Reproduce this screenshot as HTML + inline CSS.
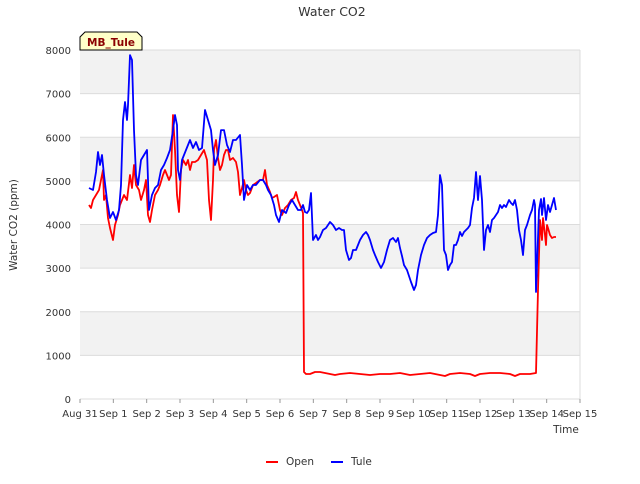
<!DOCTYPE html>
<html><head><meta charset="utf-8"><style>
body{margin:0;background:#fff;font-family:"DejaVu Sans","Liberation Sans",sans-serif;}
svg text{font-family:"DejaVu Sans","Liberation Sans",sans-serif;}
</style></head><body>
<svg id="chart" width="640" height="480">
<text x="332" y="16" text-anchor="middle" font-size="12.5" fill="#333">Water CO2</text>
<g id="bands"></g><g id="grid"></g><g id="axes"></g><g id="series"></g>
<text x="17" y="225" transform="rotate(-90 17 225)" text-anchor="middle" font-size="10.5" fill="#333">Water CO2 (ppm)</text>
<text x="566" y="433" text-anchor="middle" font-size="10.5" fill="#333">Time</text>
<g>
<path d="M80,50 L80,37 L85,32 L137,32 L142,37 L142,50 Z" fill="#ffffc8" stroke="#000" stroke-width="1"/>
<text x="111" y="46" text-anchor="middle" font-size="10.5" font-weight="bold" fill="#8b0000">MB_Tule</text>
</g>
<g>
<g><line x1="266" y1="462" x2="278" y2="462" stroke="#ff0000" stroke-width="2"/><text x="286" y="465" font-size="10.5" fill="#333">Open</text></g>
<g><line x1="331" y1="462" x2="343" y2="462" stroke="#0000ff" stroke-width="2"/><text x="351" y="465" font-size="10.5" fill="#333">Tule</text></g>
</g>
</svg>
<script>
const xTickLabels=["Aug 31","Sep 1","Sep 2","Sep 3","Sep 4","Sep 5","Sep 6","Sep 7","Sep 8","Sep 9","Sep 10","Sep 11","Sep 12","Sep 13","Sep 14","Sep 15"];
const yTicks=[0,1000,2000,3000,4000,5000,6000,7000,8000];
const tuleDays=[0.27,0.39,0.48,0.54,0.60,0.66,0.72,0.81,0.90,0.99,1.08,1.17,1.23,1.29,1.35,1.41,1.44,1.50,1.56,1.62,1.68,1.74,1.83,1.92,2.01,2.07,2.16,2.25,2.34,2.43,2.52,2.61,2.70,2.79,2.85,2.91,2.94,3.00,3.06,3.18,3.30,3.39,3.48,3.57,3.66,3.75,3.84,3.93,3.99,4.05,4.14,4.23,4.32,4.41,4.50,4.59,4.68,4.80,4.86,4.92,5.01,5.10,5.19,5.28,5.40,5.49,5.58,5.64,5.73,5.82,5.88,5.97,6.06,6.18,6.27,6.36,6.45,6.54,6.63,6.69,6.75,6.81,6.87,6.93,6.99,7.08,7.14,7.20,7.29,7.38,7.50,7.59,7.68,7.77,7.86,7.92,7.98,8.07,8.13,8.19,8.28,8.34,8.40,8.49,8.58,8.64,8.70,8.79,8.85,8.94,9.03,9.12,9.21,9.30,9.39,9.48,9.54,9.60,9.66,9.72,9.81,9.93,10.02,10.08,10.14,10.23,10.32,10.41,10.50,10.59,10.68,10.74,10.80,10.86,10.92,10.98,11.04,11.10,11.16,11.22,11.28,11.34,11.40,11.46,11.52,11.58,11.64,11.70,11.76,11.82,11.88,11.94,12.00,12.06,12.12,12.18,12.24,12.30,12.36,12.42,12.48,12.54,12.60,12.66,12.72,12.78,12.87,12.93,12.99,13.05,13.11,13.17,13.23,13.29,13.35,13.41,13.50,13.56,13.62,13.65,13.68,13.74,13.77,13.83,13.86,13.92,13.98,14.04,14.10,14.16,14.22,14.28];
const tuleValues=[4836,4790,5203,5661,5363,5592,5134,4561,4149,4286,4103,4332,4905,6395,6807,6395,6738,7884,7770,6165,5134,4905,5478,5592,5707,4332,4676,4836,4905,5249,5363,5524,5707,6165,6509,6280,5249,5019,5478,5707,5936,5753,5890,5707,5753,6624,6395,6165,5707,5363,5592,6165,6165,5822,5661,5936,5936,6051,5363,4561,4905,4790,4905,4905,5019,5019,4905,4790,4676,4446,4217,4057,4332,4263,4446,4561,4446,4332,4332,4446,4286,4263,4332,4721,3644,3759,3644,3713,3873,3919,4057,3988,3873,3919,3873,3873,3415,3186,3232,3415,3415,3530,3644,3759,3828,3759,3644,3415,3300,3140,3003,3140,3415,3644,3690,3598,3690,3461,3278,3071,2957,2682,2498,2613,2957,3300,3530,3690,3759,3805,3828,4217,5134,4905,3415,3300,2957,3071,3140,3530,3530,3644,3828,3736,3828,3873,3919,3988,4378,4607,5203,4561,5111,4561,3415,3873,3988,3828,4103,4149,4217,4286,4446,4378,4446,4401,4561,4492,4446,4561,4332,3873,3644,3300,3873,3988,4217,4332,4561,4446,2452,3690,4332,4584,4217,4607,4103,4446,4286,4446,4607,4332];
const openDays=[0.27,0.33,0.39,0.48,0.57,0.63,0.69,0.72,0.78,0.84,0.90,0.99,1.05,1.14,1.20,1.26,1.32,1.41,1.50,1.56,1.62,1.68,1.77,1.83,1.92,1.98,2.04,2.10,2.16,2.25,2.34,2.40,2.49,2.55,2.61,2.67,2.73,2.79,2.85,2.91,2.97,3.03,3.09,3.18,3.24,3.30,3.36,3.45,3.54,3.63,3.72,3.81,3.87,3.93,3.99,4.02,4.08,4.14,4.20,4.26,4.32,4.38,4.44,4.50,4.59,4.68,4.74,4.80,4.86,4.92,4.98,5.04,5.10,5.19,5.28,5.40,5.49,5.55,5.61,5.70,5.76,5.82,5.91,6.00,6.06,6.15,6.24,6.33,6.42,6.48,6.54,6.60,6.66,6.69,6.72,6.78,6.90,7.05,7.20,7.50,7.65,7.80,8.10,8.40,8.70,9.00,9.30,9.60,9.90,10.20,10.50,10.80,10.95,11.10,11.40,11.70,11.85,12.00,12.30,12.60,12.90,13.05,13.20,13.50,13.68,13.74,13.80,13.86,13.89,13.95,13.98,14.01,14.04,14.10,14.16,14.22,14.28];
const openValues=[4446,4378,4561,4676,4790,5019,5249,4561,4676,4149,3919,3644,3988,4217,4446,4561,4676,4561,5134,4836,5363,4905,4790,4561,4790,5019,4217,4057,4332,4676,4790,4905,5134,5249,5134,5019,5134,6509,5707,4676,4286,5249,5478,5363,5478,5249,5432,5432,5478,5592,5707,5478,4561,4103,5019,5707,5936,5524,5249,5363,5592,5707,5707,5478,5524,5432,5203,4676,4836,5019,4790,4676,4721,4905,4951,5019,5019,5249,4905,4744,4607,4630,4676,4332,4217,4378,4446,4561,4607,4744,4561,4446,4332,4263,619,573,573,619,619,573,550,573,596,573,550,573,573,596,550,573,596,550,527,573,596,573,527,573,596,596,573,527,573,573,596,2498,4103,3644,4149,3759,3530,3988,3919,3759,3690,3713,3713];

const X0=80,X1=580,Y0=399,Y1=50;
const xs=d=>X0+d*(X1-X0)/15;
const ys=v=>Y0-v*(Y0-Y1)/8000;
const NS="http://www.w3.org/2000/svg";
function mk(tag,attrs,parent){const e=document.createElementNS(NS,tag);for(const k in attrs)e.setAttribute(k,attrs[k]);parent.appendChild(e);return e;}
const bands=document.getElementById('bands'),grid=document.getElementById('grid'),axes=document.getElementById('axes'),series=document.getElementById('series');
for(let i=0;i<yTicks.length-1;i++){
  const r=mk('rect',{x:X0,y:ys(yTicks[i+1]),width:X1-X0,height:ys(yTicks[i])-ys(yTicks[i+1]),fill:(i%2===1)?'#f2f2f2':'#ffffff'},bands);
  
  
}
yTicks.forEach(v=>{
  const l=mk('line',{x1:X0,x2:X1,y1:ys(v),y2:ys(v),stroke:'#dcdcdc','stroke-width':1},grid);
  
  
  const t=mk('text',{x:X0-9,y:ys(v)+4,'text-anchor':'end','font-size':10,fill:'#333'},axes);
  t.textContent=v;
  
  
});
const vl=mk('line',{x1:X1,x2:X1,y1:Y1,y2:Y0,stroke:'#dcdcdc'},grid);


xTickLabels.forEach((s,i)=>{
  const t=mk('text',{x:xs(i),y:Y0+18,'text-anchor':'middle','font-size':10,fill:'#333'},axes);
  t.textContent=s;
  
  
  const tk=mk('line',{x1:xs(i),x2:xs(i),y1:Y0,y2:Y0+4,stroke:'#999'},axes);
  
  
});
function line(days,vals,color,name){
  const p=mk('polyline',{points:days.map((d,i)=>xs(d).toFixed(1)+','+ys(vals[i]).toFixed(1)).join(' '),fill:'none',stroke:color,'stroke-width':1.8,'stroke-linejoin':'round'},series);
  
  
}
line(openDays,openValues,'#ff0000','open-series-line');
line(tuleDays,tuleValues,'#0000ff','tule-series-line');
</script>
</body></html>
